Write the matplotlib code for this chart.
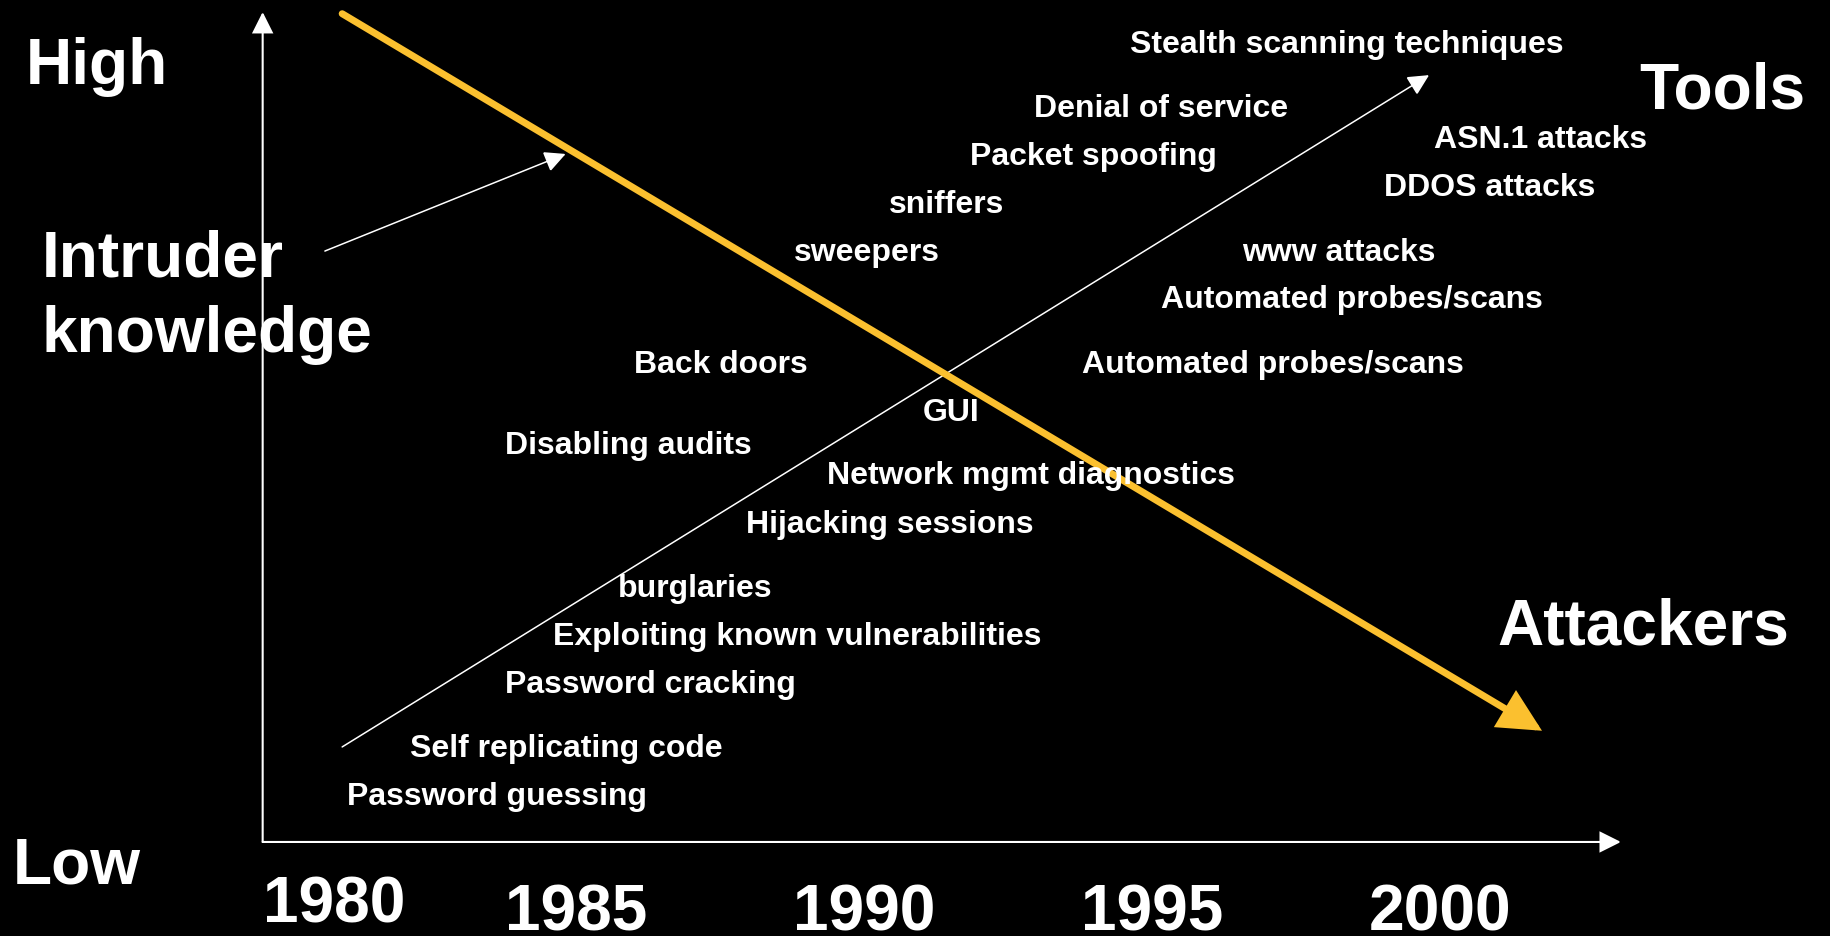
import matplotlib
matplotlib.use("Agg")
import matplotlib.pyplot as plt

plt.rcParams['font.family'] = ['Liberation Sans', 'DejaVu Sans']
plt.rcParams['font.weight'] = 'bold'

# x = year, y = intruder knowledge level (0 = low, 100 = high)
attack_labels = [
    "Stealth scanning techniques", "Denial of service", "Packet spoofing",
    "sniffers", "sweepers", "Back doors", "Disabling audits", "GUI",
    "Network mgmt diagnostics", "Hijacking sessions", "burglaries",
    "Exploiting known vulnerabilities", "Password cracking",
    "Self replicating code", "Password guessing", "ASN.1 attacks",
    "DDOS attacks", "www attacks", "Automated probes/scans",
    "Automated probes/scans",
]
attack_year = [1994.61, 1992.95, 1991.84, 1990.44, 1988.78, 1986.00, 1983.77,
               1991.02, 1989.35, 1987.95, 1985.72, 1984.60, 1983.77, 1982.11,
               1981.02, 1999.90, 1999.03, 1996.56, 1995.16, 1993.78]
attack_level = [95.2, 87.5, 81.7, 75.9, 70.1, 56.6, 46.9, 50.8, 43.2, 37.4,
                29.6, 23.9, 18.1, 10.4, 4.6, 83.7, 77.9, 70.1, 64.4, 56.6]

years = ["1980", "1985", "1990", "1995", "2000"]
year_x = [1980.8, 1985.0, 1990.0, 1995.0, 2000.0]
year_y = [-9.6, -10.6, -10.6, -10.6, -10.6]

# trend lines: (start year, start level) -> (end year, end level)
attackers_line = [(1980.94, 99.8), (2001.77, 13.4)]
tools_line = [(1980.94, 11.45), (1999.81, 92.4)]
knowledge_arrow = [(1980.64, 71.2), (1984.82, 82.9)]
x_axis = [(1979.56, 0.0), (2003.14, 0.0)]
y_axis = [(1979.56, 0.0), (1979.56, 100.0)]

big_labels = ["High", "Low", "Intruder", "knowledge", "Tools", "Attackers"]
big_x = [1975.44, 1975.22, 1975.72, 1975.72, 2003.45, 2001.00]
big_y = [91.5, -4.9, 68.3, 59.2, 88.5, 23.9]

yellow = "#FBC02F"
small_fs = 23.0
big_fs = 46.1

fig = plt.figure(figsize=(18.3, 9.37), dpi=100, facecolor="black")
ax = fig.add_axes([0, 0, 1, 1])
ax.set_facecolor("black")
ax.set_xlim(1975.0, 2006.77)
ax.set_ylim(-11.33, 101.57)
ax.axis("off")


def arrow(seg, color, lw, hl, hw, z=2):
    (x0, y0), (x1, y1) = seg
    ax.annotate("", xy=(x1, y1), xytext=(x0, y0),
                arrowprops=dict(arrowstyle=f"-|>,head_length={hl},head_width={hw}",
                                color=color, lw=lw, shrinkA=0, shrinkB=0,
                                mutation_scale=10, joinstyle="miter"),
                zorder=z)


arrow(y_axis, "white", 1.5, 1.3, 0.65)
arrow(x_axis, "white", 1.5, 1.3, 0.65)
arrow(tools_line, "white", 1.1, 1.3, 0.65)
arrow(knowledge_arrow, "white", 1.1, 1.3, 0.65)
arrow(attackers_line, yellow, 5.0, 2.3, 1.15, z=3)

for lab, x, y in zip(attack_labels, attack_year, attack_level):
    ax.text(x, y, lab, color="white", fontsize=small_fs, fontweight="bold",
            ha="left", va="baseline", zorder=4)

for lab, x, y in zip(big_labels, big_x, big_y):
    ax.text(x, y, lab, color="white", fontsize=big_fs, fontweight="bold",
            ha="left", va="baseline", zorder=4)

for lab, x, y in zip(years, year_x, year_y):
    ax.text(x, y, lab, color="white", fontsize=big_fs, fontweight="bold",
            ha="center", va="baseline", zorder=4)

fig.savefig("out.png", dpi=100, facecolor="black")
